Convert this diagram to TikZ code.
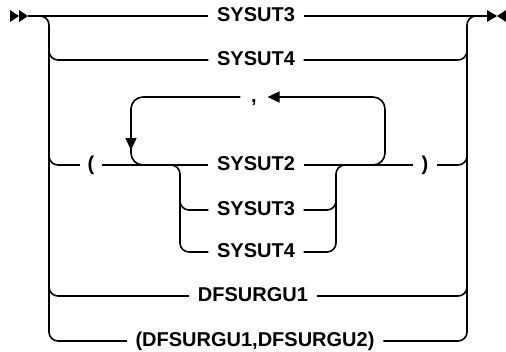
\documentclass[tikz,border=0pt]{standalone}
\usepackage{fontspec}
\setmainfont{Liberation Sans}
\usetikzlibrary{calc,arrows.meta}
\begin{document}
\begin{tikzpicture}[x=1pt,y=-1pt,line width=1.6pt,
  lbl/.style={font=\fontsize{20}{23}\selectfont\bfseries,inner xsep=8pt,inner ysep=0pt,
    text height=14.3pt,text depth=3pt,anchor=center},
  rr/.style={rounded corners=9pt},
  rl/.style={rounded corners=12pt},
  tip/.style={-{Triangle[length=12pt,width=11pt]}}]
\useasboundingbox (0,0) rectangle (506,351);
% labels
\node[lbl] (s3)  at (256,16)  {SYSUT3};
\node[lbl] (s4)  at (256,60)  {SYSUT4};
\node[lbl,inner xsep=10pt] (cm)  at (254,97)  {,};
\node[lbl] (s2)  at (256,165) {SYSUT2};
\node[lbl] (s3b) at (256,210) {SYSUT3};
\node[lbl] (s4b) at (256,252) {SYSUT4};
\node[lbl] (d1)  at (253,296) {DFSURGU1};
\node[lbl] (d12) at (255,341) {(DFSURGU1,DFSURGU2)};
\node[lbl,inner xsep=7pt] (lp) at (91,165) {(};
\node[lbl,inner xsep=8pt] (rp) at (425,165) {)};
% coordinates
\coordinate (start) at (28,16);
\coordinate (end)   at (487,16);
\coordinate (Lbot)  at (49,341);
\coordinate (Rtop)  at (467,16);
\coordinate (L)     at (49,0);
\coordinate (R)     at (467,0);
\coordinate (ltip)  at (131,150);
\coordinate (lj)    at (150,165);
\coordinate (rj)    at (360,165);
\coordinate (lcol)  at (385,97);
\coordinate (sa)    at (168,165);
\coordinate (SL)    at (180,252);
\coordinate (SR)    at (336,165);
\coordinate (sb)    at (348,165);
% start and end markers
\fill (10,10) -- (19,16) -- (10,22) -- cycle;
\fill (19,10) -- (28,16) -- (19,22) -- cycle;
\fill (487,10) -- (497,16) -- (487,22) -- cycle;
\fill (506,10) -- (497,16) -- (506,22) -- cycle;
% main line
\draw (start) -- (s3.west);
\draw (s3.east) -- (end);
% left bar and branches
\draw[rr] (start) -| (Lbot) -- (d12.west);
\draw[rr] ($(L |- s4.west)+(0,-15)$) |- (s4.west);
\draw[rr] ($(L |- lp.west)+(0,-15)$) |- (lp.west);
\draw[rr] ($(L |- d1.west)+(0,-15)$) |- (d1.west);
% right bar and branches
\draw[rr] (d12.east) -| (Rtop) -- (end);
\draw[rr] (s4.east) -| ($(R |- s4.east)+(0,-15)$);
\draw[rr] (rp.east) -| ($(R |- rp.east)+(0,-15)$);
\draw[rr] (d1.east) -| ($(R |- d1.east)+(0,-15)$);
% group row
\draw (lp.east) -- (s2.west);
\draw (s2.east) -- (rp.west);
% repeat loop
\draw[rl,tip] (cm.west) -| (ltip);
\draw[rl] ($(ltip)+(0,-2)$) |- (lj);
\draw[rl,tip] (rj) -| (lcol) -- (cm.east);
% inner choice
\draw[rr] (sa) -| (SL) -- (s4b.west);
\draw[rr] ($(SL |- s3b.west)+(0,-15)$) |- (s3b.west);
\draw[rr] (s4b.east) -| (SR) -- (sb);
\draw[rr] (s3b.east) -| ($(SR |- s3b.east)+(0,-15)$);
\end{tikzpicture}
\end{document}
